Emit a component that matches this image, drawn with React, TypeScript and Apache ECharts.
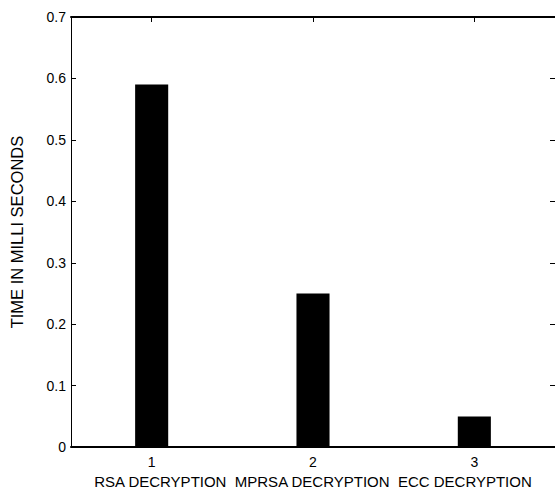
import React, { useEffect, useRef } from "react";
import * as echarts from "echarts";

const tickLabels = ["1", "2", "3"];
const xTitle = "RSA DECRYPTION  MPRSA DECRYPTION  ECC DECRYPTION";
const yTitle = "TIME IN MILLI SECONDS";
const values = [0.59, 0.25, 0.05];
const yMin = 0;
const yMax = 0.7;
const yStep = 0.1;

const FONT = "Liberation Sans, Arial, sans-serif";

const mkLine = (w = 1) => ({ show: true, onZero: false, lineStyle: { color: "#000", width: w } });
const mkTick = (align: boolean) => ({
  show: true,
  inside: true,
  length: 5,
  alignWithLabel: align,
  lineStyle: { color: "#000", width: 1 },
});

export default function App() {
  const ref = useRef<HTMLDivElement>(null);
  useEffect(() => {
    if (!ref.current) return;
    const chart = echarts.init(ref.current, null, { renderer: "svg" });
    chart.setOption({
      animation: false,
      backgroundColor: "#fff",
      grid: {
        left: 59,
        top: 17,
        right: -1,
        bottom: 44,
        containLabel: false,
        show: false,
      },
      xAxis: [
        {
          type: "category",
          position: "bottom",
          data: tickLabels,
          boundaryGap: true,
          axisLine: mkLine(2),
          axisTick: mkTick(true),
          axisLabel: { color: "#000", fontFamily: FONT, fontSize: 14, margin: 8 },
          name: xTitle,
          nameLocation: "middle",
          nameGap: 26,
          nameTextStyle: { color: "#000", fontFamily: FONT, fontSize: 15 },
          splitLine: { show: false },
        },
        {
          type: "category",
          position: "top",
          data: tickLabels,
          boundaryGap: true,
          axisLine: mkLine(2),
          axisTick: mkTick(true),
          axisLabel: { show: false },
          splitLine: { show: false },
        },
      ],
      yAxis: [
        {
          type: "value",
          position: "left",
          min: yMin,
          max: yMax,
          interval: yStep,
          axisLine: mkLine(1),
          axisTick: mkTick(false),
          axisLabel: {
            color: "#000",
            fontFamily: FONT,
            fontSize: 14,
            margin: 5,
            formatter: (v: number) => (v === 0 ? "0" : v.toFixed(1)),
          },
          splitLine: { show: false },
          name: yTitle,
          nameLocation: "middle",
          nameGap: 46,
          nameRotate: 90,
          nameTextStyle: { color: "#000", fontFamily: FONT, fontSize: 16.5 },
        },
        {
          type: "value",
          position: "right",
          min: yMin,
          max: yMax,
          interval: yStep,
          axisLine: mkLine(1),
          axisTick: mkTick(false),
          axisLabel: { show: false },
          splitLine: { show: false },
        },
      ],
      series: [
        {
          type: "bar",
          data: values,
          barWidth: "20.5%",
          xAxisIndex: 0,
          yAxisIndex: 0,
          itemStyle: { color: "#000" },
          z: 1,
        },
        {
          type: "line",
          data: values,
          xAxisIndex: 1,
          yAxisIndex: 1,
          symbol: "none",
          lineStyle: { opacity: 0 },
          silent: true,
          z: 0,
        },
      ],
    });
    return () => chart.dispose();
  }, []);
  return (
    <div
      ref={ref}
      style={{ position: "absolute", left: 0, top: 0, width: 555, height: 494 }}
    />
  );
}
